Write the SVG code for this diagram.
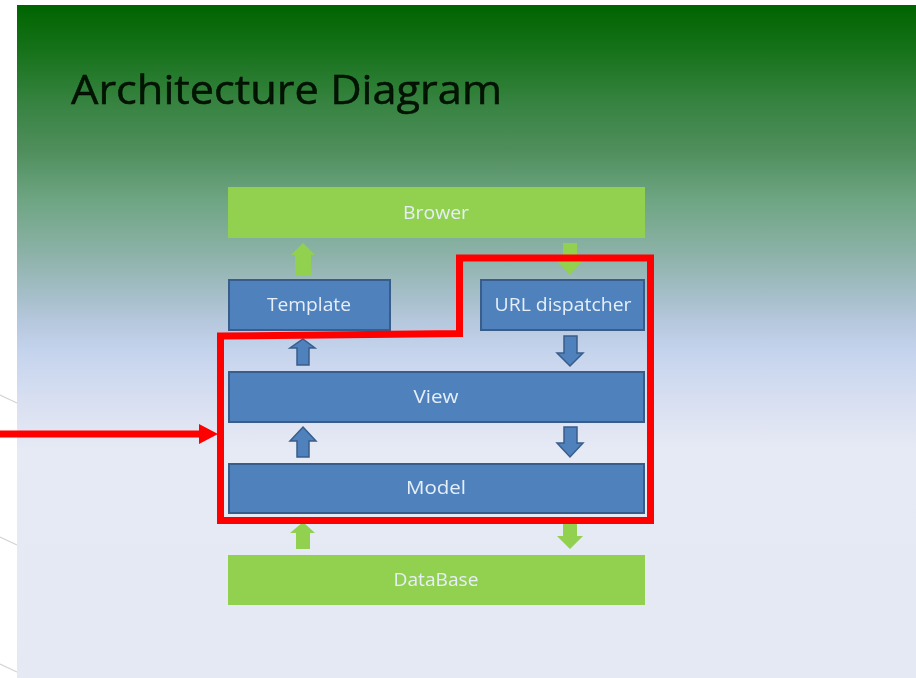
<svg xmlns="http://www.w3.org/2000/svg" width="916" height="678" viewBox="0 0 916 678">
  <defs>
    <linearGradient id="bg" gradientUnits="userSpaceOnUse" x1="0" y1="0" x2="0" y2="678">
      <stop offset="0.0074" stop-color="#006400"/>
      <stop offset="0.0737" stop-color="#167219"/>
      <stop offset="0.1475" stop-color="#35823f"/>
      <stop offset="0.2212" stop-color="#4f8e5c"/>
      <stop offset="0.295" stop-color="#6ea583"/>
      <stop offset="0.3687" stop-color="#8ab1a5"/>
      <stop offset="0.4425" stop-color="#a8c0cd"/>
      <stop offset="0.475" stop-color="#b6c8dd"/>
      <stop offset="0.516" stop-color="#c4d3ec"/>
      <stop offset="0.568" stop-color="#d2dcf0"/>
      <stop offset="0.612" stop-color="#dde2f2"/>
      <stop offset="0.664" stop-color="#e6eaf5"/>
      <stop offset="1" stop-color="#e4e9f4"/>
    </linearGradient>
    <filter id="soft" x="-5%" y="-5%" width="110%" height="110%"><feGaussianBlur stdDeviation="0.5"/></filter>
  </defs>
  <style>
    .blue{fill:#4f81bd;stroke:#385d8a;stroke-width:2}
    .green{fill:#92d050}
    .blueA{fill:#4f81bd;stroke:#385d8a;stroke-width:1.5}
    .lab{font-family:"Open Sans","Noto Sans",sans-serif;font-size:19px;fill:#e6eff8;text-anchor:middle;filter:url(#soft)}
    .deco{stroke:#d4d4d4;stroke-width:1.2;fill:none}
    .red{fill:none;stroke:#ff0000;stroke-width:7}
  </style>
  <rect width="916" height="678" fill="#ffffff"/>
  <path class="deco" d="M0 395L17 403M0 537L17 545M0 664L17 672"/>
  <rect x="17" y="5" width="899" height="673" fill="url(#bg)"/>
  <text id="title" x="71" y="104" font-family="'Open Sans','Noto Sans',sans-serif" font-size="41" fill="#061206" stroke="#061206" stroke-width="0.5" textLength="431" lengthAdjust="spacingAndGlyphs" filter="url(#soft)">Architecture Diagram</text>

  <g id="connectors" filter="url(#soft)">
    <polygon class="green" points="303,243 315,255 311,255 311,275 295,275 295,255 291,255"/>
    <polygon class="green" points="563,243 577,243 577,261 583,261 570,275 557,261 563,261"/>
    <polygon class="blueA" points="303,339 315,348 309,348 309,365 297,365 297,348 290,348"/>
    <polygon class="blueA" points="564,336 577,336 577,353 583,353 570,366 557,353 564,353"/>
    <polygon class="blueA" points="303,427 316,441 309,441 309,457 297,457 297,441 290,441"/>
    <polygon class="blueA" points="564,427 577,427 577,443 583,443 570,457 557,443 564,443"/>
    <polygon class="green" points="303,522 315,533 310,533 310,549 296,549 296,533 290,533"/>
    <polygon class="green" points="563,520 577,520 577,536 583,536 570,549 557,536 563,536"/>
  </g>

  <g id="browser"><rect class="green" x="228" y="187" width="417" height="51"/><text class="lab" x="436" y="219" textLength="66" lengthAdjust="spacingAndGlyphs">Brower</text></g>
  <g id="template"><rect class="blue" x="229" y="280" width="161" height="50"/><text class="lab" x="309" y="311" textLength="84" lengthAdjust="spacingAndGlyphs">Template</text></g>
  <g id="url-dispatcher"><rect class="blue" x="481" y="280" width="163" height="50"/><text class="lab" x="563" y="311" textLength="137" lengthAdjust="spacingAndGlyphs">URL dispatcher</text></g>
  <g id="view"><rect class="blue" x="229" y="372" width="415" height="50"/><text class="lab" x="436" y="403" textLength="45" lengthAdjust="spacingAndGlyphs">View</text></g>
  <g id="model"><rect class="blue" x="229" y="464" width="415" height="49"/><text class="lab" x="436" y="494" textLength="60" lengthAdjust="spacingAndGlyphs">Model</text></g>
  <g id="database"><rect class="green" x="228" y="555" width="417" height="50"/><text class="lab" x="436" y="586" textLength="85" lengthAdjust="spacingAndGlyphs">DataBase</text></g>

  <g id="highlight">
    <path class="red" d="M220.500 336L459.500 333.500L459.500 258L650.500 258L650.500 520.500L220.500 520.500Z"/>
    <rect x="0" y="430.500" width="200" height="7" fill="#ff0000"/>
    <polygon points="199,424 218,434 199,444" fill="#ff0000"/>
  </g>
</svg>
